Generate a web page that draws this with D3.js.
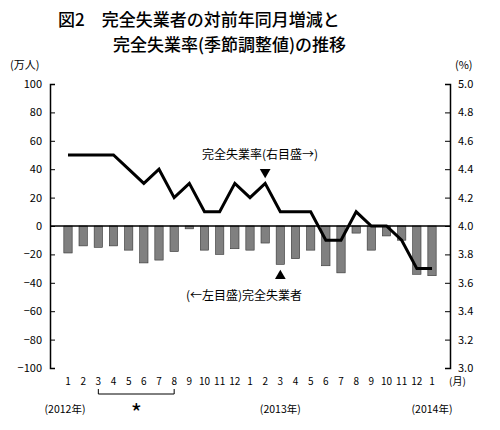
<!DOCTYPE html>
<html><head><meta charset="utf-8">
<script src="https://cdn.jsdelivr.net/npm/d3@7"></script>
<style>body{margin:0;background:#fff}text{font-family:"Noto Sans CJK JP",sans-serif}</style>
</head><body><svg width="500" height="430"></svg>
<script>
var months = ["1","2","3","4","5","6","7","8","9","10","11","12","1","2","3","4","5","6","7","8","9","10","11","12","1"];
var change = [-19,-14,-15,-14,-17,-26,-24,-18,-2,-17,-20,-16,-17,-12,-27,-23,-17,-28,-33,-5,-17,-7,-10,-34,-35];
var rate = [4.5,4.5,4.5,4.5,4.4,4.3,4.4,4.2,4.3,4.1,4.1,4.3,4.2,4.3,4.1,4.1,4.1,3.9,3.9,4.1,4.0,4.0,3.9,3.7,3.7];
var leftTicks = d3.range(-100, 101, 20);
var rightTicks = d3.range(3.0, 5.01, 0.2);

var L = 50, R = 450, T = 84, B = 368;
var svg = d3.select("svg");
var x = d3.scaleBand().domain(d3.range(months.length)).range([L + 7, R - 7]).padding(0.45);
var yL = d3.scaleLinear().domain([-100, 100]).range([B, T]);
var yR = d3.scaleLinear().domain([3.0, 5.0]).range([B, T]);

svg.append("text").attr("x", 58).attr("y", 26).attr("font-size", 17).attr("font-weight", 500).text("図2　完全失業者の対前年同月増減と");
svg.append("text").attr("x", 113).attr("y", 51).attr("font-size", 17).attr("font-weight", 500).text("完全失業率(季節調整値)の推移");
svg.append("text").attr("x", 10).attr("y", 69).attr("font-size", 11).text("(万人)");
svg.append("text").attr("x", 455).attr("y", 69).attr("font-size", 11).text("(%)");

svg.selectAll("rect.bar").data(change).join("rect")
  .attr("x", (d, i) => x(i)).attr("width", x.bandwidth())
  .attr("y", d => yL(Math.max(0, d))).attr("height", d => Math.abs(yL(d) - yL(0)))
  .attr("fill", "#808080").attr("stroke", "#333").attr("stroke-width", 0.6);

var gl = svg.append("g").attr("transform", `translate(${L},0)`)
  .call(d3.axisLeft(yL).tickValues(leftTicks).tickSize(-5).tickPadding(8));
var gr = svg.append("g").attr("transform", `translate(${R},0)`)
  .call(d3.axisRight(yR).tickValues(rightTicks).tickSize(-5).tickPadding(8).tickFormat(d3.format(".1f")));
[gl, gr].forEach(g => { g.selectAll("text").attr("font-size", 11).attr("font-family", "Liberation Sans, Arial"); g.select(".domain").attr("stroke-width", 1.5); });

svg.append("line").attr("x1", L).attr("x2", R).attr("y1", yL(0)).attr("y2", yL(0)).attr("stroke", "#000").attr("stroke-width", 1.5);

svg.append("path").datum(rate)
  .attr("d", d3.line().x((d, i) => x(i) + x.bandwidth() / 2).y(d => yR(d)))
  .attr("fill", "none").attr("stroke", "#000").attr("stroke-width", 3);

svg.selectAll("text.m").data(months).join("text")
  .attr("x", (d, i) => x(i) + x.bandwidth() / 2).attr("y", 385)
  .attr("text-anchor", "middle").attr("font-size", 10).attr("font-family", "Liberation Sans, Arial").text(d => d);
svg.append("text").attr("x", 449).attr("y", 385).attr("font-size", 10).text("(月)");

var c = i => x(i) + x.bandwidth() / 2;
svg.append("path").attr("d", `M${c(2)},389V394H${c(7)}V389`).attr("fill", "none").attr("stroke", "#000");
svg.append("text").attr("x", (c(2) + c(7)) / 2).attr("y", 422).attr("text-anchor", "middle").attr("font-size", 24).attr("font-family", "DejaVu Sans").text("*");
svg.append("text").attr("x", c(0) - 3).attr("y", 413).attr("text-anchor", "middle").attr("font-size", 10.5).text("(2012年)");
svg.append("text").attr("x", c(14)).attr("y", 413).attr("text-anchor", "middle").attr("font-size", 10.5).text("(2013年)");
svg.append("text").attr("x", c(24)).attr("y", 413).attr("text-anchor", "middle").attr("font-size", 10.5).text("(2014年)");

svg.append("text").attr("x", 202).attr("y", 159).attr("font-size", 12).text("完全失業率(右目盛→)");
svg.append("path").attr("d", d3.symbol(d3.symbolTriangle, 50)()).attr("transform", `translate(${c(13)},172) rotate(180)`);
svg.append("path").attr("d", d3.symbol(d3.symbolTriangle, 50)()).attr("transform", `translate(${c(14)},276)`);
svg.append("text").attr("x", 186).attr("y", 300).attr("font-size", 12).text("(←左目盛)完全失業者");
</script></body></html>
